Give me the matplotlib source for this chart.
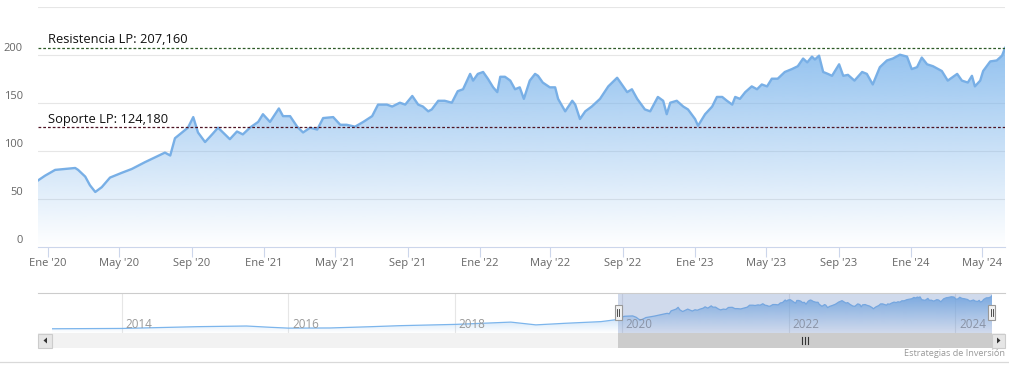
import numpy as np
import pandas as pd
import matplotlib
matplotlib.use("Agg")
import matplotlib.pyplot as plt
import matplotlib.dates as mdates
from matplotlib.colors import to_rgb
from matplotlib.lines import Line2D
from matplotlib.patches import Rectangle, Polygon

plt.rcParams['font.family'] = ['Open Sans', 'DejaVu Sans']

fechas = [
    '2019-12-15', '2019-12-27', '2020-01-13', '2020-01-30', '2020-02-16', '2020-02-21', '2020-03-04',
    '2020-03-12', '2020-03-21', '2020-04-01', '2020-04-15', '2020-05-05', '2020-05-22', '2020-06-13',
    '2020-06-30', '2020-07-17', '2020-07-26', '2020-08-03', '2020-08-15', '2020-08-25', '2020-09-03',
    '2020-09-11', '2020-09-23', '2020-10-05', '2020-10-15', '2020-11-04', '2020-11-16', '2020-11-26',
    '2020-12-08', '2020-12-22', '2020-12-30', '2021-01-11', '2021-01-26', '2021-02-02', '2021-02-14',
    '2021-02-26', '2021-03-08', '2021-03-20', '2021-04-01', '2021-04-11', '2021-04-28', '2021-05-10',
    '2021-05-21', '2021-06-04', '2021-06-18', '2021-07-03', '2021-07-13', '2021-07-28', '2021-08-06',
    '2021-08-19', '2021-08-28', '2021-09-09', '2021-09-19', '2021-09-27', '2021-10-06', '2021-10-12',
    '2021-10-23', '2021-11-03', '2021-11-15', '2021-11-25', '2021-12-04', '2021-12-16', '2021-12-21',
    '2021-12-29', '2022-01-07', '2022-01-15', '2022-01-24', '2022-01-31', '2022-02-05', '2022-02-13',
    '2022-02-22', '2022-03-02', '2022-03-10', '2022-03-17', '2022-03-27', '2022-04-05', '2022-04-10',
    '2022-04-18', '2022-04-30', '2022-05-09', '2022-05-14', '2022-05-26', '2022-06-07', '2022-06-12',
    '2022-06-20', '2022-06-29', '2022-07-10', '2022-07-24', '2022-08-07', '2022-08-22', '2022-08-30',
    '2022-09-08', '2022-09-16', '2022-09-25', '2022-10-08', '2022-10-17', '2022-10-30', '2022-11-08',
    '2022-11-14', '2022-11-20', '2022-12-01', '2022-12-12', '2022-12-20', '2023-01-01', '2023-01-06',
    '2023-01-18', '2023-01-30', '2023-02-07', '2023-02-16', '2023-02-24', '2023-03-05', '2023-03-10',
    '2023-03-18', '2023-03-27', '2023-04-07', '2023-04-16', '2023-04-24', '2023-05-03', '2023-05-11',
    '2023-05-21', '2023-06-02', '2023-06-14', '2023-06-24', '2023-07-03', '2023-07-10', '2023-07-18',
    '2023-07-23', '2023-07-30', '2023-08-06', '2023-08-14', '2023-08-21', '2023-08-26', '2023-09-02',
    '2023-09-09', '2023-09-17', '2023-09-28', '2023-10-11', '2023-10-19', '2023-10-29', '2023-11-10',
    '2023-11-22', '2023-12-02', '2023-12-14', '2023-12-26', '2024-01-03', '2024-01-12', '2024-01-20',
    '2024-01-29', '2024-02-08', '2024-02-23', '2024-03-04', '2024-03-20', '2024-03-28', '2024-04-07',
    '2024-04-14', '2024-04-19', '2024-04-28', '2024-05-03', '2024-05-15', '2024-05-26', '2024-06-04',
    '2024-06-09']
precios = [
    69, 74, 80, 81, 82, 80, 73, 64, 57, 62, 72, 77, 81, 88, 93, 98, 95, 113, 119, 124, 135,
    119, 109, 117, 124, 112, 120, 117, 124, 130, 138, 130, 144, 136, 136, 125, 119, 124, 122, 134,
    135, 127, 127, 125, 130, 136, 148, 148, 146, 150, 148, 157, 148, 146, 141, 143, 152, 152, 150,
    162, 164, 180, 173, 180, 182, 175, 166, 161, 177, 177, 173, 164, 166, 154, 173, 180, 178, 171,
    166, 166, 154, 141, 152, 148, 133, 141, 146, 154, 167, 176, 169, 161, 164, 154, 143, 141, 156,
    152, 138, 150, 152, 146, 143, 133, 126, 138, 146, 156, 156, 152, 148, 156, 154, 161, 167, 164,
    169, 167, 175, 175, 182, 185, 188, 196, 192, 198, 195, 199, 182, 180, 178, 183, 190, 178, 179,
    173, 182, 180, 169, 187, 194, 196, 200, 198, 185, 187, 197, 190, 188, 183, 173, 180, 173, 171,
    178, 167, 173, 183, 193, 194, 199, 207]

# historico anterior (solo visible en el navegador)
hist_fechas = ['2013-03-01', '2013-09-01', '2014-01-01', '2014-06-01', '2014-12-01', '2015-07-01',
               '2015-10-15', '2016-01-01', '2016-07-01', '2017-01-01', '2017-05-01', '2018-01-01',
               '2018-09-01', '2018-12-20', '2019-05-01', '2019-10-01', '2019-12-01']
hist_precios = [3, 4, 5, 10, 16, 20, 12, 7, 8, 16, 22, 30, 44, 27, 37, 47, 58]

resistencia = 207.160
soporte = 124.180
y_ticks = [0, 50, 100, 150, 200]
meses = {1: 'Ene', 5: 'May', 9: 'Sep'}
nav_years = [2014, 2016, 2018, 2020, 2022, 2024]

W, H = 1009, 379
AREA = '#7cb5ec'
fig = plt.figure(figsize=(W / 100, H / 100), dpi=100)


def box(x0, y0, x1, y1):
    return [x0 / W, 1 - y1 / H, (x1 - x0) / W, (y1 - y0) / H]


def fx(px):
    return px / W


def fy(py):
    return 1 - py / H


def gradient_area(ax, x, y, base, top):
    poly = Polygon(np.column_stack([np.r_[x[0], x, x[-1]], np.r_[base, y, base]]),
                   closed=True, facecolor='none', edgecolor='none')
    ax.add_patch(poly)
    grad = np.zeros((200, 1, 4))
    grad[:, 0, :3] = to_rgb(AREA)
    grad[:, 0, 3] = np.linspace(1, 0, 200)
    im = ax.imshow(grad, aspect='auto', origin='upper', interpolation='bilinear',
                   extent=[x[0], x[-1], base, top], zorder=1)
    im.set_clip_path(poly)


x = mdates.date2num(pd.to_datetime(fechas))
y = np.array(precios, dtype=float)

# ---- grafico principal
ax = fig.add_axes(box(38, 6.7, 1005, 246.7))
ax.set_xlim(x[0], x[-1])
ax.set_ylim(0, 250)
gradient_area(ax, x, y, 0, 250)
ax.plot(x, y, color='#78afe6', lw=1.7, zorder=3, solid_joinstyle='round')
for v in [50, 100, 150, 200, 250]:
    ax.axhline(v, color='#e6e6e6', lw=0.8, zorder=0.5)
for s in ['top', 'left', 'right']:
    ax.spines[s].set_visible(False)
ax.spines['bottom'].set_color('#ccd6eb')
ax.set_yticks([])
for v in y_ticks:
    ax.annotate(str(v), xy=(0, v), xycoords=('axes fraction', 'data'), xytext=(-11, 4.5),
                textcoords='offset points', ha='right', va='center', fontsize=8, color='#666666')

ticks = pd.date_range('2020-01-01', '2024-05-01', freq='4MS')
ax.set_xticks(mdates.date2num(ticks))
ax.set_xticklabels([f"{meses[t.month]} '{t.year % 100:02d}" for t in ticks])
ax.tick_params(axis='x', length=7.2, width=0.8, color='#ccd6eb', labelcolor='#666666',
               labelsize=8, pad=1)

ax.axhline(resistencia, color='#2d5a27', lw=0.9, ls=(0, (2.2, 1.6)), zorder=4)
ax.axhline(soporte, color='#4f1424', lw=0.9, ls=(0, (2.2, 1.6)), zorder=4)
ax.annotate('Resistencia LP: ' + f'{resistencia:.3f}'.replace('.', ','), xy=(0, resistencia),
            xycoords=('axes fraction', 'data'), xytext=(7.2, 1.2), textcoords='offset points',
            ha='left', va='bottom', fontsize=9.3, color='#111111', zorder=5)
ax.annotate('Soporte LP: ' + f'{soporte:.3f}'.replace('.', ','), xy=(0, soporte),
            xycoords=('axes fraction', 'data'), xytext=(7.2, 1.2), textcoords='offset points',
            ha='left', va='bottom', fontsize=9.3, color='#111111', zorder=5)

# ---- navegador
nx = np.r_[mdates.date2num(pd.to_datetime(hist_fechas)), x]
ny = np.r_[np.array(hist_precios, dtype=float), y]
nav = fig.add_axes(box(52, 293, 992, 333))
nav.set_xlim(nx[0], nx[-1])
nav.set_ylim(-23, 223)
gradient_area(nav, nx, ny, -23, 223)
nav.plot(nx, ny, color=AREA, lw=0.9, zorder=3)
nav.axis('off')
for yr in nav_years:
    t = mdates.date2num(pd.Timestamp(f'{yr}-01-01'))
    nav.axvline(t, color='#e6e6e6', lw=0.8, zorder=0.5)
    nav.annotate(str(yr), xy=(t, 0.2), xycoords=('data', 'axes fraction'), xytext=(2.5, 0),
                 textcoords='offset points', ha='left', va='center', fontsize=8.4,
                 color='#999999', zorder=4)
nav.add_patch(Rectangle((x[0], 0), nx[-1] - x[0], 1, transform=nav.get_xaxis_transform(),
                        facecolor=(102 / 255, 133 / 255, 194 / 255, 0.3), edgecolor='none', zorder=5))

# posiciones en pixeles de la ventana seleccionada
fig.canvas.draw()
px0 = nav.transData.transform((x[0], 0))[0]
px1 = nav.transData.transform((nx[-1], 0))[0]

fig.add_artist(Line2D([fx(38), fx(1005)], [fy(293), fy(293)], color='#cccccc', lw=0.8))

# barra de desplazamiento
fig.add_artist(Rectangle((fx(38), fy(348)), fx(1005 - 38), 15 / H, facecolor='#f2f2f2',
                         edgecolor='none'))
fig.add_artist(Rectangle((fx(px0), fy(348)), fx(px1 - px0), 15 / H, facecolor='#cccccc',
                         edgecolor='none'))
mid = (px0 + px1) / 2
for d in (-3, 0, 3):
    fig.add_artist(Line2D([fx(mid + d), fx(mid + d)], [fy(337), fy(344)], color='#333333', lw=0.8))
for bx0, bx1, tri in [(38, 52, [(47, 337.5), (47, 343.5), (43.5, 340.5)]),
                      (992, 1005, [(997, 337.5), (997, 343.5), (1000.5, 340.5)])]:
    fig.add_artist(Rectangle((fx(bx0), fy(347.5)), fx(bx1 - bx0), 14 / H, facecolor='#e6e6e6',
                             edgecolor='#cccccc', lw=0.8))
    fig.add_artist(Polygon([(fx(a), fy(b)) for a, b in tri], closed=True, facecolor='#333333',
                           edgecolor='none'))

# asas del navegador
for hx in (px0, px1):
    fig.add_artist(Rectangle((fx(hx - 3.5), fy(320)), fx(7), 15 / H, facecolor='#f2f2f2',
                             edgecolor='#999999', lw=0.8, zorder=6))
    for d in (-1, 1):
        fig.add_artist(Line2D([fx(hx + d), fx(hx + d)], [fy(309), fy(316)], color='#333333',
                              lw=0.6, zorder=7))

fig.add_artist(Line2D([0, 1], [fy(362), fy(362)], color='#d9d9d9', lw=0.9))
fig.text(fx(1005), fy(354), 'Estrategias de Inversión', ha='right', va='center', fontsize=6.6,
         color='#999999')

fig.savefig('out.png', dpi=100, facecolor='white')
